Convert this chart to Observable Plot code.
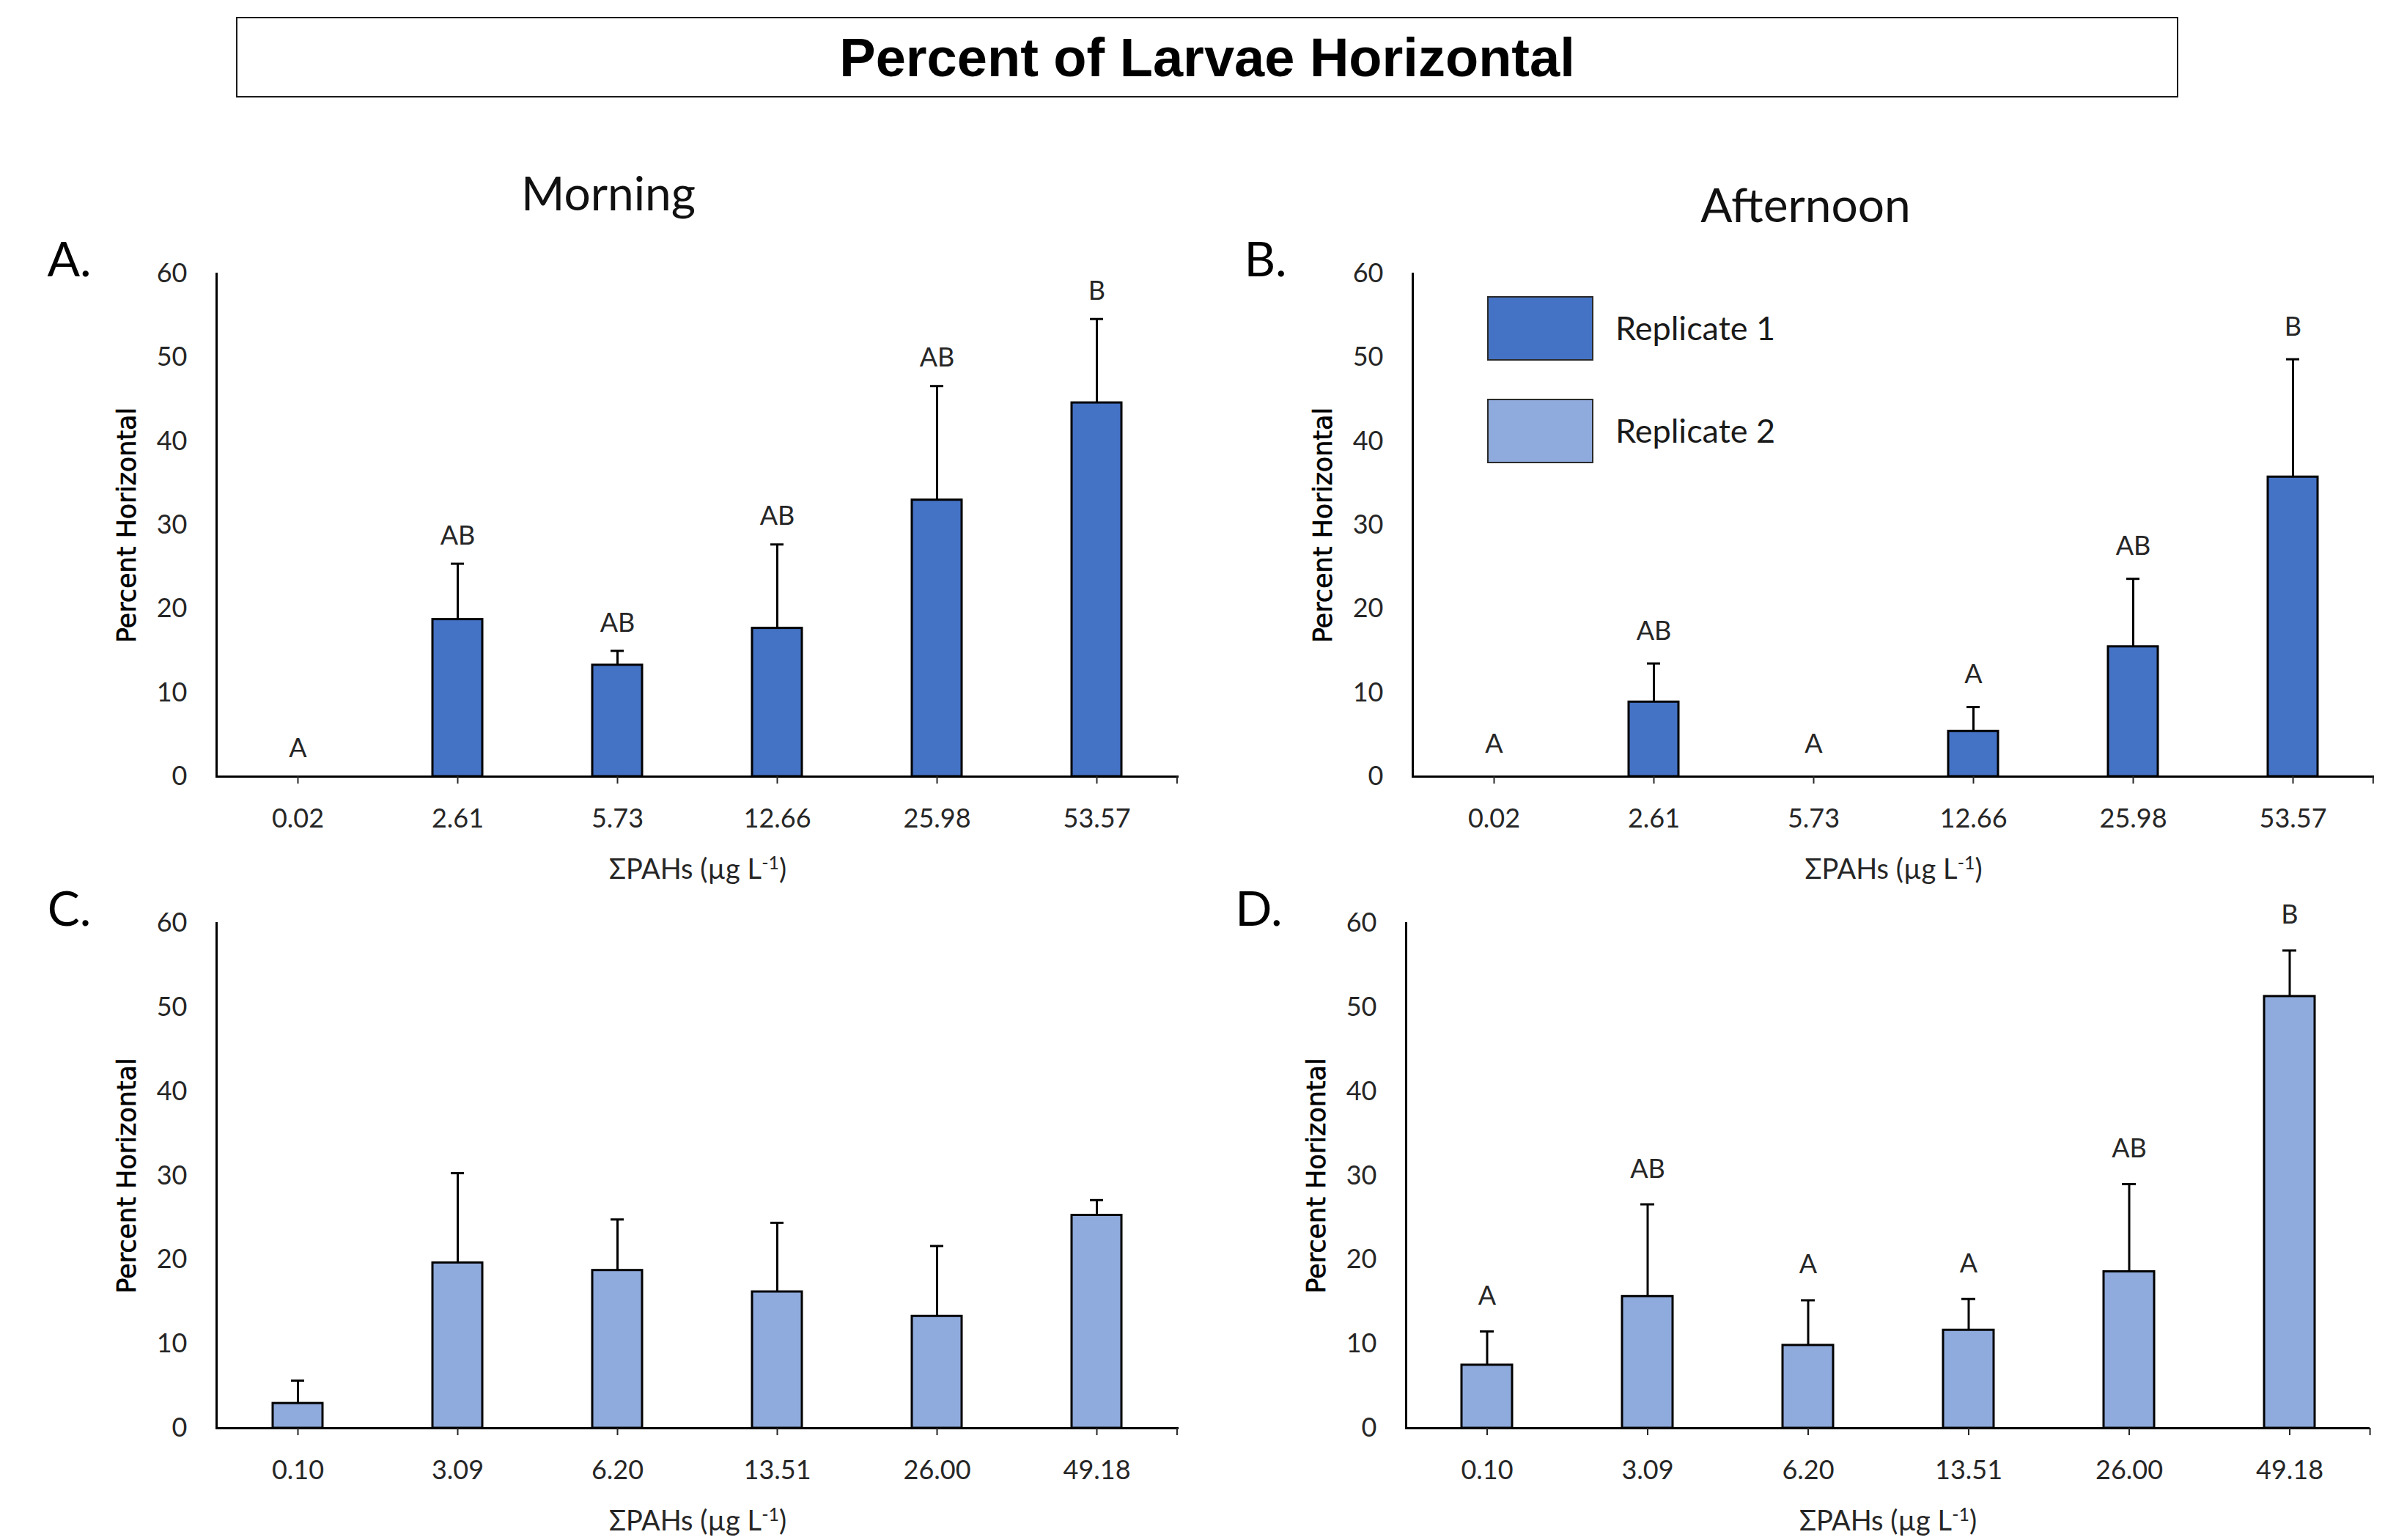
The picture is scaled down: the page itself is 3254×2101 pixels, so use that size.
<!DOCTYPE html>
<html>
<head>
<meta charset="utf-8">
<script src="https://cdn.jsdelivr.net/npm/d3@7"></script>
<script src="https://cdn.jsdelivr.net/npm/@observablehq/plot@0.6"></script>
<style>
  body { margin: 0; background: #fff; }
  #wrap { position: relative; width: 3254px; height: 2101px; overflow: hidden; background: #fff; }
  #title { position: absolute; left: 322px; top: 23px; width: 2650px; height: 110px; box-sizing: border-box;
    border: 2px solid #1a1a1a; display: flex; align-items: center; justify-content: center;
    font: bold 74px "Liberation Sans", Arial, sans-serif; color: #000; }
  .panel { position: absolute; }
  .sw { position: absolute; width: 145px; height: 88px; box-sizing: border-box; border: 2px solid #2a2a2a; }
  .lt { position: absolute; font: 45px Lato, sans-serif; color: #1a1a1a; transform: translateY(-50%); white-space: nowrap; }
</style>
</head>
<body>
<div id="wrap">
  <div id="title">Percent of Larvae Horizontal</div>
</div>
<script>
// ---------- data ----------
const concRep1 = ["0.02", "2.61", "5.73", "12.66", "25.98", "53.57"];
const concRep2 = ["0.10", "3.09", "6.20", "13.51", "26.00", "49.18"];

const morningRep1 = [0, 18.75, 13.3, 17.7, 33.0, 44.6];
const morningRep1Err = [0, 6.65, 1.7, 10.0, 13.6, 10.0];
const morningRep1Letters = ["A", "AB", "AB", "AB", "AB", "B"];

const afternoonRep1 = [0, 8.9, 0, 5.4, 15.5, 35.75];
const afternoonRep1Err = [0, 4.6, 0, 2.9, 8.1, 14.05];
const afternoonRep1Letters = ["A", "AB", "A", "A", "AB", "B"];

const morningRep2 = [2.95, 19.65, 18.75, 16.2, 13.3, 25.3];
const morningRep2Err = [2.7, 10.65, 6.05, 8.2, 8.35, 1.8];

const afternoonRep2 = [7.5, 15.65, 9.85, 11.65, 18.6, 51.3];
const afternoonRep2Err = [4.0, 10.95, 5.35, 3.7, 10.4, 5.45];
const afternoonRep2Letters = ["A", "AB", "A", "A", "AB", "B"];

const yTicks = [0, 10, 20, 30, 40, 50, 60];
const seriesNames = ["Replicate 1", "Replicate 2"];
const seriesColors = ["#4472C4", "#8FAADC"];
const yTitle = "Percent Horizontal";
const xTitle = "ΣPAHs (µg L-1)";

// ---------- drawing ----------
const wrap = document.getElementById("wrap");

function panel(o) {
  const rows = o.cats.map((c, i) => ({
    cat: c, value: o.values[i], err: o.errs[i], top: o.values[i] + o.errs[i],
    letter: o.letters ? o.letters[i] : null
  }));
  const frameW = o.width - o.mL - o.mR;
  const halfStep = frameW / 12;
  const marks = [
    Plot.barY(rows.filter(d => d.value > 0), {x: "cat", y: "value", fill: o.color, stroke: "#000", strokeWidth: 3}),
    Plot.ruleX(rows.filter(d => d.err > 0), {x: "cat", y1: "value", y2: "top", stroke: "#000", strokeWidth: 3}),
    Plot.tickY(rows.filter(d => d.err > 0), {x: "cat", y: "top", stroke: "#000", strokeWidth: 3, insetLeft: 25, insetRight: 25}),
    Plot.ruleY([0], {stroke: "#000", strokeWidth: 3}),
    Plot.frame({anchor: "left", stroke: "#000", strokeWidth: 3}),
    Plot.axisY({ticks: yTicks, tickSize: 0, tickPadding: 40, label: null, fontSize: 36}),
    Plot.axisX({tickSize: 10, tickPadding: 34, label: null, strokeWidth: 2, fontSize: 36}),
    Plot.axisX({ticks: [o.cats[o.cats.length - 1]], tickSize: 10, tickFormat: () => "", dx: halfStep, strokeWidth: 2, label: null}),
    Plot.text([yTitle], {frameAnchor: "left", dx: -122, rotate: -90, textAnchor: "middle", lineAnchor: "middle",
      fontFamily: "DejaVu Sans", fontSize: 35, fill: "#000", stroke: "#000", strokeWidth: 0.6}),
    Plot.text([xTitle], {frameAnchor: "bottom", dy: 127, textAnchor: "middle", lineAnchor: "middle", fontSize: 38, fill: "#262626"}),
    Plot.text([o.panelLetter], {frameAnchor: "top-left", dx: -201, dy: -18, textAnchor: "middle", lineAnchor: "middle",
      fontSize: 66, fill: "#000"})
  ];
  if (o.letters) {
    marks.push(Plot.text(rows.filter(d => d.letter), {x: "cat", y: "top", text: "letter", dy: o.letterDy,
      lineAnchor: "middle", fontSize: 36, fill: "#262626"}));
  }
  if (o.heading) {
    marks.push(Plot.text([o.heading], {frameAnchor: "top", dx: o.headingDx, dy: o.headingDy, textAnchor: "middle",
      lineAnchor: "middle", fontSize: 64, fill: "#111"}));
  }
  const chart = Plot.plot({
    width: o.width, height: o.height,
    marginLeft: o.mL, marginRight: o.mR, marginTop: o.mT, marginBottom: o.mB,
    x: {type: "band", domain: o.cats, paddingInner: 0.686, paddingOuter: 0.343},
    y: {domain: [0, 60]},
    style: {background: "transparent", overflow: "visible", fontFamily: "Lato, sans-serif", fontSize: "36px",
      color: "#262626", maxWidth: "none"},
    marks
  });
  // superscript for the x title
  chart.querySelectorAll("text").forEach(t => {
    if (t.textContent === xTitle) {
      t.textContent = "";
      const ns = "http://www.w3.org/2000/svg";
      const a = document.createElementNS(ns, "tspan"); a.textContent = "ΣPAHs (µg L";
      const b = document.createElementNS(ns, "tspan"); b.textContent = "-1"; b.setAttribute("dy", "-13"); b.setAttribute("font-size", "25");
      const c = document.createElementNS(ns, "tspan"); c.textContent = ")"; c.setAttribute("dy", "13");
      t.append(a, b, c);
    }
  });
  chart.classList.add("panel");
  chart.style.left = o.left + "px";
  chart.style.top = o.top + "px";
  wrap.appendChild(chart);
}

panel({cats: concRep1, values: morningRep1, errs: morningRep1Err, letters: morningRep1Letters, color: seriesColors[0],
  left: 0, top: 150, width: 1640, height: 1040, mL: 295, mR: 32, mT: 223, mB: 131,
  panelLetter: "A.", heading: "Morning", headingDx: -122, headingDy: -107, letterDy: -38});
panel({cats: concRep1, values: afternoonRep1, errs: afternoonRep1Err, letters: afternoonRep1Letters, color: seriesColors[0],
  left: 1640, top: 150, width: 1614, height: 1040, mL: 287, mR: 15, mT: 223, mB: 131,
  panelLetter: "B.", heading: "Afternoon", headingDx: -120, headingDy: -91, letterDy: -44});
panel({cats: concRep2, values: morningRep2, errs: morningRep2Err, letters: null, color: seriesColors[1],
  left: 0, top: 1190, width: 1640, height: 911, mL: 295, mR: 32, mT: 69, mB: 153,
  panelLetter: "C."});
panel({cats: concRep2, values: afternoonRep2, errs: afternoonRep2Err, letters: afternoonRep2Letters, color: seriesColors[1],
  left: 1640, top: 1190, width: 1614, height: 911, mL: 278, mR: 21, mT: 69, mB: 153,
  panelLetter: "D.", letterDy: -48});

// legend
const legendTops = [404, 544];
seriesNames.forEach((name, i) => {
  const sw = document.createElement("div");
  sw.className = "sw";
  sw.style.left = "2029px";
  sw.style.top = legendTops[i] + "px";
  sw.style.background = seriesColors[i];
  wrap.appendChild(sw);
  const lt = document.createElement("div");
  lt.className = "lt";
  lt.style.left = "2204px";
  lt.style.top = (legendTops[i] + 43) + "px";
  lt.textContent = name;
  wrap.appendChild(lt);
});
</script>
</body>
</html>
